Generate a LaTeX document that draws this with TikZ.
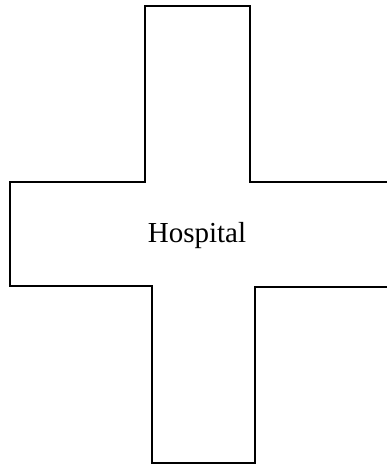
\documentclass[tikz,border=0pt]{standalone}
\usepackage{fontspec}
\setmainfont{Liberation Serif}
\usepackage{tikz}
\usetikzlibrary{positioning,calc}
\tikzset{
  wall/.style={draw=black, line width=2.2pt, line join=miter},
  lab/.style ={inner sep=0pt, font=\fontsize{29}{31}\selectfont},
}

\begin{document}
\begin{tikzpicture}[x=1pt, y=-1pt]
        \useasboundingbox (0,0) rectangle (387,466);
        % cross outline (right arm runs off the page)
        \draw[wall] (145,6) -- (250,6) -- (250,182) -- (392,182)
          -- (392,287) -- (255,287) -- (255,463) -- (152,463)
          -- (152,286) -- (10,286) -- (10,182) -- (145,182) -- cycle;
        \node[lab] (hosp) at (197,236) {Hospital};
      \end{tikzpicture}
\end{document}
